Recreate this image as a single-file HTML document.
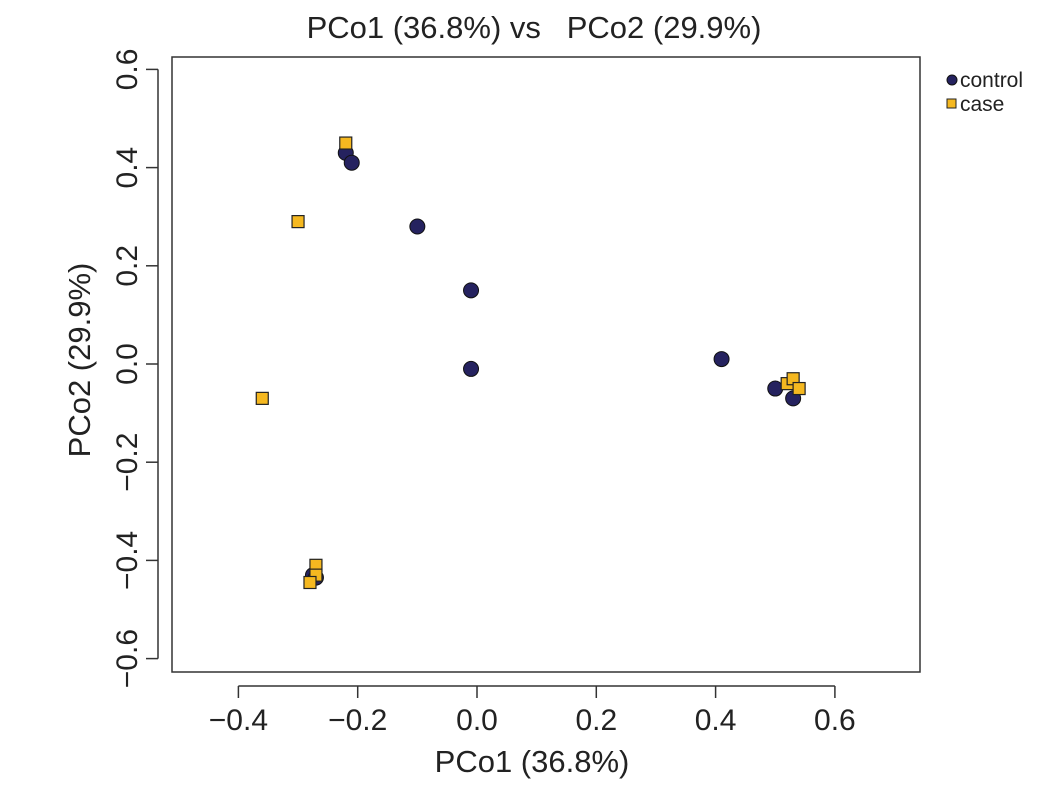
<!DOCTYPE html>
<html><head><meta charset="utf-8"><style>
body{margin:0;background:#fff;}
svg text{font-family:"Liberation Sans",sans-serif;fill:#222;}
</style></head><body>
<svg id="chart" width="1063" height="789" xmlns="http://www.w3.org/2000/svg">
<text x="534" y="38" text-anchor="middle" font-size="31" xml:space="preserve">PCo1 (36.8%) vs   PCo2 (29.9%)</text>
<rect x="172" y="57" width="748" height="615" fill="none" stroke="#333" stroke-width="1.5"/>
<g id="xaxis"></g>
<g id="yaxis"></g>
<text x="532" y="772" text-anchor="middle" font-size="31">PCo1 (36.8%)</text>
<text transform="translate(90,360) rotate(-90)" text-anchor="middle" font-size="31">PCo2 (29.9%)</text>
<g id="marks"></g>
<g>
<circle cx="952" cy="80" r="5" fill="#25225f" stroke="#111" stroke-width="1"/>
<text x="960" y="87" font-size="21">control</text>
<rect x="947" y="99" width="9" height="9" fill="#f5b820" stroke="#222" stroke-width="1"/>
<text x="960" y="111" font-size="21">case</text>
</g>
</svg>
<script>
const xTicks=[-0.4,-0.2,0.0,0.2,0.4,0.6];
const yTicks=[-0.6,-0.4,-0.2,0.0,0.2,0.4,0.6];
const controlX=[-0.22,-0.21,-0.10,-0.01,-0.01,0.41,0.50,0.53,-0.275,-0.27];
const controlY=[0.43,0.41,0.28,0.15,-0.01,0.01,-0.05,-0.07,-0.43,-0.435];
const caseX=[-0.22,-0.30,-0.36,0.52,0.53,0.54,-0.27,-0.27,-0.28];
const caseY=[0.45,0.29,-0.07,-0.04,-0.03,-0.05,-0.41,-0.43,-0.445];
const NS="http://www.w3.org/2000/svg";
const sx=v=>477+v*596.5, sy=v=>364-v*491;
function mk(t,a){const e=document.createElementNS(NS,t);for(const k in a)e.setAttribute(k,a[k]);return e;}
const xa=document.getElementById('xaxis'),ya=document.getElementById('yaxis'),m=document.getElementById('marks');
xa.appendChild(mk('line',{x1:sx(-0.4),x2:sx(0.6),y1:686,y2:686,stroke:'#333','stroke-width':1.5}));
xTicks.forEach(v=>{
 const l=mk('line',{x1:sx(v),x2:sx(v),y1:686,y2:698,stroke:'#333','stroke-width':1.5});
 
 
 xa.appendChild(l);
 const t=mk('text',{x:sx(v),y:730,'text-anchor':'middle','font-size':30});
 t.textContent=(v<0?'\u2212':'')+Math.abs(v).toFixed(1);
 
 
 xa.appendChild(t);
});
ya.appendChild(mk('line',{x1:158,x2:158,y1:sy(-0.6),y2:sy(0.6),stroke:'#333','stroke-width':1.5}));
yTicks.forEach(v=>{
 const l=mk('line',{x1:146,x2:158,y1:sy(v),y2:sy(v),stroke:'#333','stroke-width':1.5});
 
 
 ya.appendChild(l);
 const t=mk('text',{transform:`translate(137,${sy(v)}) rotate(-90)`,'text-anchor':'middle','font-size':30});
 t.textContent=(v<0?'\u2212':'')+Math.abs(v).toFixed(1);
 
 
 ya.appendChild(t);
});
controlX.forEach((x,i)=>{
 const c=mk('circle',{cx:sx(x),cy:sy(controlY[i]),r:7.5,fill:'#25225f',stroke:'#111','stroke-width':1});
 
 
 m.appendChild(c);
});
caseX.forEach((x,i)=>{
 const r=mk('rect',{x:sx(x)-6,y:sy(caseY[i])-6,width:12,height:12,fill:'#f5b820',stroke:'#222','stroke-width':1.2});
 
 
 m.appendChild(r);
});
</script>
</body></html>
